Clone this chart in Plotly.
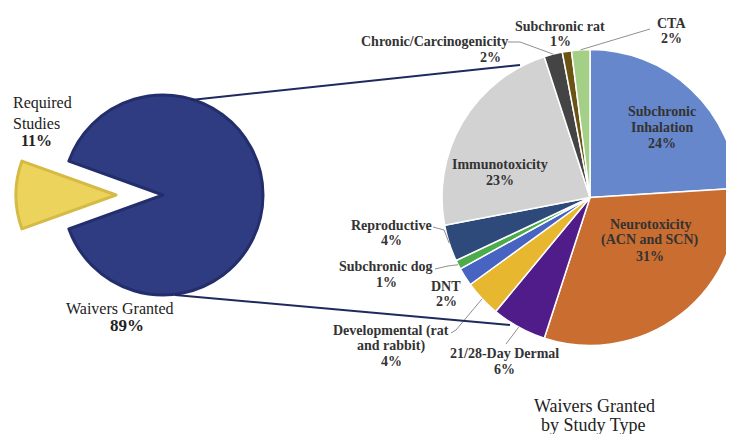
import math
import plotly.graph_objects as go

W, H = 734, 434

# ---------------- data ----------------
waiver_labels = ["Required Studies", "Waivers Granted"]
waiver_pct = [11, 89]
waiver_colors = ["#EBD35C", "#2F3C81"]
waiver_lines = ["#D5BA45", "#232E6C"]

study_types = ["Subchronic Inhalation", "Neurotoxicity (ACN and SCN)", "21/28-Day Dermal",
               "Developmental (rat and rabbit)", "DNT", "Subchronic dog", "Reproductive",
               "Immunotoxicity", "Chronic/Carcinogenicity", "Subchronic rat", "CTA"]
study_pct = [24, 31, 6, 4, 2, 1, 4, 23, 2, 1, 2]
study_colors = ["#6687CB", "#C96D31", "#4F1C8A", "#E7B72F", "#4764C2", "#4CAB4A",
                "#2E4A7A", "#D2D2D2", "#444444", "#6B5413", "#A4CF86"]
study_label_lines = [["Subchronic", "Inhalation"], ["Neurotoxicity", "(ACN and SCN)"],
                     ["21/28-Day Dermal"], ["Developmental (rat", "and rabbit)"], ["DNT"],
                     ["Subchronic dog"], ["Reproductive"], ["Immunotoxicity"],
                     ["Chronic/Carcinogenicity"], ["Subchronic rat"], ["CTA"]]

# ---------------- layout helpers (pixel -> paper) ----------------
def px(x):
    return x / W

def py(y):
    return 1 - y / H

FONT = "Liberation Serif"
TXT = "#333333"

# left pie geometry
L_CX, L_CY, L_R, L_PULL = 155, 187, 100, 0.47
L_BOX = L_R * (2 + 2 * L_PULL)
# right pie geometry
R_CX, R_CY, R_R = 582, 189.5, 148

fig = go.Figure()

fig.add_trace(go.Pie(
    labels=waiver_labels, values=waiver_pct, sort=False, direction="clockwise",
    rotation=270 - 360 * waiver_pct[0] / 100 / 2,
    pull=[L_PULL, 0],
    marker=dict(colors=waiver_colors, line=dict(color=waiver_lines, width=3)),
    textinfo="none", hoverinfo="label+percent", showlegend=False,
    domain=dict(x=[px(L_CX - L_BOX / 2), px(L_CX + L_BOX / 2)],
                y=[py(L_CY + L_BOX / 2), py(L_CY - L_BOX / 2)]),
))

fig.add_trace(go.Pie(
    labels=study_types, values=study_pct, sort=False, direction="clockwise", rotation=0,
    marker=dict(colors=study_colors, line=dict(color="white", width=1.5)),
    textinfo="none", hoverinfo="label+percent", showlegend=False,
    domain=dict(x=[px(R_CX - R_R), px(R_CX + R_R)],
                y=[py(R_CY + R_R), py(R_CY - R_R)]),
))

annotations = []
shapes = []

def add_text(x, y, text, size=14, bold=True, xanchor="center", color=TXT):
    annotations.append(dict(
        x=px(x), y=py(y), xref="paper", yref="paper", showarrow=False,
        text=f"<b>{text}</b>" if bold else text, xanchor=xanchor, yanchor="middle",
        font=dict(family=FONT, size=size, color=color),
    ))

# label placement: x per line, y of first line, line spacing
label_place = {
    "Subchronic Inhalation": ([654, 654, 654], 104, 15.5),
    "Neurotoxicity (ACN and SCN)": ([642, 642, 642], 216, 16),
    "21/28-Day Dermal": ([497, 497], 345, 16),
    "Developmental (rat and rabbit)": ([383, 383, 383], 323, 15),
    "DNT": ([438, 438], 278, 15.5),
    "Subchronic dog": ([378, 378], 258, 16),
    "Reproductive": ([383, 383], 217, 16),
    "Immunotoxicity": ([492, 492], 156, 16),
    "Chronic/Carcinogenicity": ([426, 482], 33, 16),
    "Subchronic rat": ([552, 552], 18, 15),
    "CTA": ([663, 663], 15, 16),
}

for name, pct, lines in zip(study_types, study_pct, study_label_lines):
    xs, y0, sp = label_place[name]
    all_lines = lines + [f"{pct}%"]
    for i, t in enumerate(all_lines):
        add_text(xs[i], y0 + i * sp, t, size=14)

# slice mid-angles (clockwise from 12 o'clock)
total = sum(study_pct)
mid_angle = {}
acc = 0
for name, v in zip(study_types, study_pct):
    mid_angle[name] = 360 * (acc + v / 2) / total
    acc += v

def edge(name, rf=1.0):
    a = math.radians(mid_angle[name])
    return R_CX + R_R * rf * math.sin(a), R_CY - R_R * rf * math.cos(a)

leaders = {
    "Chronic/Carcinogenicity": [(500, 34), (512, 34)],
    "CTA": [(642, 21)],
    "Reproductive": [(425, 219), (436, 222)],
    "Subchronic dog": [(427, 261), (440, 258)],
    "Developmental (rat and rabbit)": [(443, 325), (448, 322)],
    "21/28-Day Dermal": [(498, 336)],
}
for name, pts in leaders.items():
    ex, ey = edge(name, 1.0)
    allp = pts + [(ex, ey)]
    path = "M " + " L ".join(f"{px(x):.5f},{py(y):.5f}" for x, y in allp)
    shapes.append(dict(type="path", path=path, xref="paper", yref="paper",
                       line=dict(color="#8F8F8F", width=1)))

# connector lines between the two pies
for (x0, y0), (x1, y1) in [((183, 92), (512, 57)), ((167, 287), (502, 317))]:
    shapes.append(dict(type="line", xref="paper", yref="paper",
                       x0=px(x0), y0=py(y0), x1=px(x1), y1=py(y1),
                       line=dict(color="#1E2A5E", width=2)))

# left pie labels
add_text(3, 95, "Required", size=16, bold=False, xanchor="left", color="#222")
add_text(3, 115, "Studies", size=16, bold=False, xanchor="left", color="#222")
add_text(28, 133, f"{waiver_pct[0]}%", size=16, color="#222")
add_text(112, 300, "Waivers Granted", size=16, bold=False, color="#222")
add_text(119, 317, f"{waiver_pct[1]}%", size=17, color="#222")

# bottom caption
add_text(586, 398, "Waivers Granted", size=18, bold=False, color="#222")
add_text(585, 417, "by Study Type", size=18, bold=False, color="#222")

fig.update_layout(
    width=W, height=H, margin=dict(l=0, r=0, t=0, b=0),
    paper_bgcolor="white", plot_bgcolor="white",
    annotations=annotations, shapes=shapes, showlegend=False,
)

fig.write_html("out.html")
